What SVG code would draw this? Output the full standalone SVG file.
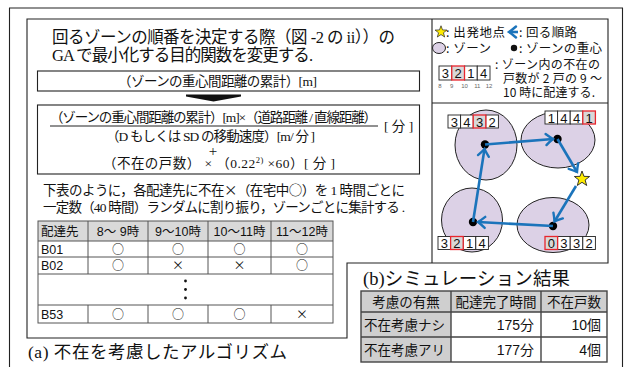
<svg xmlns="http://www.w3.org/2000/svg" width="626" height="367" viewBox="0 0 626 367">
<style>
.jp{font-family:"Liberation Serif","Noto Sans CJK JP",serif;fill:#111}
.gs{font-family:"Noto Sans CJK JP",sans-serif;fill:#111}
.nar{font-family:"Liberation Sans Narrow","Liberation Sans","Noto Sans CJK JP",sans-serif;fill:#111}
.ln{fill:none;stroke:#222;stroke-width:1.1}
.cell{fill:#fff;stroke:#222;stroke-width:0.9}
.hi{fill:#d8d8d8;stroke:#e8262e;stroke-width:1.3}
.dig{font-family:"Liberation Sans Narrow","Liberation Sans",sans-serif;font-size:13px;fill:#111;text-anchor:middle}
.zone{fill:#dcd1e6;stroke:#222;stroke-width:1}
.arr{stroke:#1b74bb;stroke-width:2.6;fill:none;marker-end:url(#chev)}
.tg{fill:none;stroke:#555;stroke-width:1}
.tt{font-family:"Liberation Sans Narrow","Liberation Sans","Noto Sans CJK JP",sans-serif;font-size:12.5px;fill:#111}
.mk{font-family:"Noto Sans CJK JP",sans-serif;font-size:12px;fill:#111;text-anchor:middle}
.st{fill:none;stroke:#444;stroke-width:1.4}
</style>
<defs>
<marker id="chev" markerUnits="userSpaceOnUse" markerWidth="14" markerHeight="14" viewBox="-10 -7 12 14" refX="0" refY="0" orient="auto" overflow="visible">
<path d="M-7,-5.5 Q-3,-2 0,0 Q-3,2 -7,5.5" fill="none" stroke="#1b74bb" stroke-width="2.4" stroke-linecap="round"/>
</marker>
<polygon id="star" points="0,-8 1.94,-2.67 7.61,-2.47 3.14,1.02 4.70,6.47 0,3.3 -4.70,6.47 -3.14,1.02 -7.61,-2.47 -1.94,-2.67" fill="#ffec00" stroke="#222" stroke-width="0.9"/>
</defs>
<rect width="626" height="367" fill="#fff"/>
<!-- outer frame -->
<path d="M9.5,372 V8 H622.5 V372" class="ln" stroke-width="1.3"/>
<g id="panel-a">
<path d="M27,19 H608 V263 H347 V338 H27 Z" class="ln"/>
<text class="jp" x="28" y="358" font-size="17.5" textLength="259">(a) 不在を考慮したアルゴリズム</text>
</g>
<g id="title">
<text class="jp" x="52" y="43" font-size="16.5" textLength="343">回るゾーンの順番を決定する際（図 -2 の ii））の</text>
<text class="jp" x="52" y="61" font-size="16.5" textLength="261">GA で最小化する目的関数を変更する.</text>
</g>
<g id="box-before">
<rect x="37.5" y="71" width="382" height="20" class="ln"/>
<text class="jp" x="118" y="86" font-size="13.5" textLength="199">（ゾーンの重心間距離の累計）[m]</text>
</g>
<g id="box-after">
<rect x="37.5" y="105" width="382" height="69" class="ln"/>
<text class="jp" x="50" y="122" font-size="13.5" textLength="327">（ゾーンの重心間距離の累計）[m]×（道路距離 / 直線距離）</text>
<line x1="50" y1="126" x2="378" y2="126" stroke="#222" stroke-width="1"/>
<text class="jp" x="384" y="131" font-size="13.5">[ 分 ]</text>
<text class="jp" x="106" y="141" font-size="13.5" textLength="209">（D もしくは SD の移動速度）[m/ 分 ]</text>
<text class="jp" x="213" y="155.5" font-size="15" text-anchor="middle">+</text>
<text class="jp" x="103" y="168" font-size="13.5" textLength="232">（不在の戸数） × （0.22<tspan font-size="8.5" dy="-5">2)</tspan><tspan dy="5"> ×60）[ 分 ]</tspan></text>
</g>
<g id="note">
<text class="jp" x="43" y="195" font-size="13.5" textLength="362">下表のように，各配達先に不在<tspan class="gs">×</tspan>（在宅中<tspan class="gs">○</tspan>）を 1 時間ごとに</text>
<text class="jp" x="43" y="212" font-size="13.5" textLength="362">一定数（40 時間）ランダムに割り振り，ゾーンごとに集計する .</text>
</g>
<g id="table-a">
<rect x="38" y="221" width="295" height="20" fill="#d9d9d9"/>
<rect x="38" y="221" width="295" height="102" class="tg"/>
<path d="M38,241 H333 M38,257 H333 M38,274 H333 M38,305 H333" class="tg"/>
<path d="M88,221 V274 M88,305 V323 M148,221 V274 M148,305 V323 M208,221 V274 M208,305 V323 M271,221 V274 M271,305 V323" class="tg"/>
<text class="tt" x="41" y="236">配達先</text>
<text class="tt" x="118" y="236" text-anchor="middle">8～ 9時</text>
<text class="tt" x="178" y="236" text-anchor="middle">9～10時</text>
<text class="tt" x="239.5" y="236" text-anchor="middle">10～11時</text>
<text class="tt" x="302" y="236" text-anchor="middle">11～12時</text>
<text class="tt" x="41" y="254">B01</text>
<text class="tt" x="41" y="270">B02</text>
<text class="tt" x="41" y="319">B53</text>
<text class="mk" x="118" y="254">○</text><text class="mk" x="178" y="254">○</text><text class="mk" x="239.5" y="254">○</text><text class="mk" x="302" y="254">○</text>
<text class="mk" x="118" y="270">○</text><text class="mk" x="178" y="270">×</text><text class="mk" x="239.5" y="270">×</text><text class="mk" x="302" y="270">○</text>
<text class="mk" x="118" y="319">○</text><text class="mk" x="178" y="319">○</text><text class="mk" x="239.5" y="319">○</text><text class="mk" x="302" y="319">×</text>
<circle cx="185.5" cy="281" r="1.4" fill="#111"/><circle cx="185.5" cy="289.5" r="1.4" fill="#111"/><circle cx="185.5" cy="298" r="1.4" fill="#111"/>
</g>
<g id="legend">
<path d="M432,19 V263 M432,103 H608" class="ln"/>
<use href="#star" transform="translate(441,32) scale(0.78)"/>
<text class="gs" x="446" y="37" font-size="12.5" textLength="59">: 出発地点</text>
<line x1="518" y1="32" x2="509" y2="32" class="arr" stroke-width="2.2"/>
<text class="gs" x="519" y="37" font-size="12.5" textLength="58">: 回る順路</text>
<ellipse cx="439" cy="48" rx="6.5" ry="5.5" class="zone"/>
<text class="gs" x="446" y="53" font-size="12.5" textLength="45">: ゾーン</text>
<circle cx="514" cy="48" r="3.2" fill="#111"/>
<text class="gs" x="519" y="53" font-size="12.5" textLength="83">: ゾーンの重心</text>
<rect x="439" y="66" width="12.75" height="14" class="cell"/>
<rect x="464.5" y="66" width="12.75" height="14" class="cell"/>
<rect x="477.25" y="66" width="12.75" height="14" class="cell"/>
<rect x="451.75" y="66" width="12.75" height="14" class="hi"/>
<text class="dig" x="445.4" y="78">3</text><text class="dig" x="458.1" y="78">2</text><text class="dig" x="470.9" y="78">1</text><text class="dig" x="483.6" y="78">4</text>
<g font-family="Liberation Sans" font-size="6" fill="#666" text-anchor="middle">
<text x="440" y="87.5">8</text><text x="451.75" y="87.5">9</text><text x="464.5" y="87.5">10</text><text x="477.25" y="87.5">11</text><text x="489" y="87.5">12</text>
</g>
<text class="gs" x="495" y="69" font-size="12" textLength="105">: ゾーン内の不在の</text>
<text class="gs" x="503" y="83" font-size="12" textLength="99">戸数が 2 戸の 9 ～</text>
<text class="gs" x="503" y="97" font-size="12" textLength="92">10 時に配達する.</text>
</g>
<g id="zone-tl">
<ellipse cx="486" cy="145" rx="31" ry="35" class="zone"/>
<circle cx="485" cy="144.5" r="4.2" fill="#000"/>
</g>
<g id="zone-tr">
<ellipse cx="558" cy="140" rx="37" ry="28" class="zone"/>
<circle cx="557.5" cy="139" r="4.2" fill="#000"/>
</g>
<g id="zone-bl">
<ellipse cx="472" cy="220" rx="30.5" ry="32" class="zone"/>
<circle cx="473" cy="222" r="4.2" fill="#000"/>
</g>
<g id="zone-br">
<ellipse cx="553" cy="225" rx="36" ry="27.5" class="zone"/>
<circle cx="553" cy="226" r="4.2" fill="#000"/>
</g>
<g id="start">
<use href="#star" transform="translate(582,179)"/>
</g>
<g id="counts">
<rect x="448" y="115" width="12.6" height="13" class="cell"/><rect x="460.6" y="115" width="12.6" height="13" class="cell"/><rect x="485.8" y="115" width="12.6" height="13" class="cell"/><rect x="473.2" y="115" width="12.6" height="13" class="hi"/>
<text class="dig" x="454.3" y="126.5">3</text><text class="dig" x="466.9" y="126.5">4</text><text class="dig" x="479.5" y="126.5">3</text><text class="dig" x="492.1" y="126.5">2</text>
<rect x="545" y="111" width="12.6" height="13" class="cell"/><rect x="557.6" y="111" width="12.6" height="13" class="cell"/><rect x="570.2" y="111" width="12.6" height="13" class="cell"/><rect x="582.8" y="111" width="12.6" height="13" class="hi"/>
<text class="dig" x="551.3" y="122.5">1</text><text class="dig" x="563.9" y="122.5">4</text><text class="dig" x="576.5" y="122.5">4</text><text class="dig" x="589.1" y="122.5">1</text>
<rect x="438" y="236.5" width="12.6" height="13" class="cell"/><rect x="463.2" y="236.5" width="12.6" height="13" class="cell"/><rect x="475.8" y="236.5" width="12.6" height="13" class="cell"/><rect x="450.6" y="236.5" width="12.6" height="13" class="hi"/>
<text class="dig" x="444.3" y="248">3</text><text class="dig" x="456.9" y="248">2</text><text class="dig" x="469.5" y="248">1</text><text class="dig" x="482.1" y="248">4</text>
<rect x="557.6" y="236.5" width="12.6" height="13" class="cell"/><rect x="570.2" y="236.5" width="12.6" height="13" class="cell"/><rect x="582.8" y="236.5" width="12.6" height="13" class="cell"/><rect x="545" y="236.5" width="12.6" height="13" class="hi"/>
<text class="dig" x="551.3" y="248">0</text><text class="dig" x="563.9" y="248">3</text><text class="dig" x="576.5" y="248">3</text><text class="dig" x="589.1" y="248">2</text>
</g>
<g id="connectors">
<polygon points="186,94.5 241,94.5 241,96.5 213.5,101.5 186,96.5" fill="#111"/>
<line x1="485" y1="144.5" x2="553" y2="139" class="arr"/>
<line x1="557.5" y1="139" x2="577" y2="172" class="arr"/>
<line x1="576" y1="186" x2="554.5" y2="221.5" class="arr"/>
<line x1="553" y1="226" x2="478" y2="222" class="arr"/>
<line x1="473" y1="222" x2="484.5" y2="149" class="arr"/>
</g>
<g id="panel-b">
<text x="363" y="285" font-size="18.5" textLength="207" class="jp">(b)シミュレーション結果</text>
<rect x="361" y="291" width="90" height="71" fill="#cfcfcf"/>
<rect x="451" y="291" width="156" height="21" fill="#cfcfcf"/>
<rect x="361" y="291" width="246" height="71" class="st"/>
<path d="M361,312 H607 M361,337 H607 M451,291 V362 M541,291 V362" class="st"/>
<g class="gs" font-size="13.5">
<text x="406" y="306.5" text-anchor="middle">考慮の有無</text>
<text x="496" y="306.5" text-anchor="middle">配達完了時間</text>
<text x="574" y="306.5" text-anchor="middle">不在戸数</text>
<text x="364" y="330">不在考慮ナシ</text>
<text x="364" y="355">不在考慮アリ</text>
</g>
<g class="nar" font-size="14" text-anchor="end">
<text x="534" y="330">175分</text>
<text x="601" y="330">10個</text>
<text x="534" y="355">177分</text>
<text x="601" y="355">4個</text>
</g>
</g>
</svg>
